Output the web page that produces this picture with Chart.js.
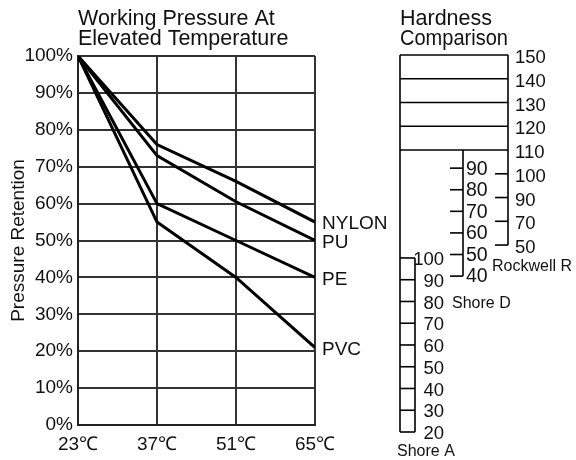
<!DOCTYPE html>
<html>
<head>
<meta charset="utf-8">
<script src="https://cdn.jsdelivr.net/npm/chart.js@4"></script>
<style>
  body { margin: 0; background: #fff; }
  #wrap { position: relative; width: 576px; height: 460px; }
  #pressureChart { position: absolute; left: 0; top: 0; }
  #hardnessChart { position: absolute; left: 380px; top: 0; }
</style>
</head>
<body>
<div id="wrap">
  <canvas id="pressureChart" width="400" height="460"></canvas>
  <canvas id="hardnessChart" width="196" height="460"></canvas>
</div>
<script>
// --- data ---
const temps = [23, 37, 51, 65];
const tempLabels = ['23℃', '37℃', '51℃', '65℃'];
const retentionTicks = [0, 10, 20, 30, 40, 50, 60, 70, 80, 90, 100];

const seriesNames = ['NYLON', 'PU', 'PE', 'PVC'];
const nylon = [100, 76, 66, 55];
const pu = [100, 73, 60.5, 50];
const pe = [100, 60, 50, 40];
const pvc = [100, 55, 40, 21];

const rockwellR = [150, 140, 130, 120, 110, 100, 90, 70, 50];
const shoreD = [90, 80, 70, 60, 50, 40];
const shoreA = [100, 90, 80, 70, 60, 50, 40, 30, 20];

const FONT = 'Liberation Sans, Arial, sans-serif';
const INK = '#111';

// --- left chart: working pressure ---
const endLabels = {
    id: 'endLabels',
    afterDatasetsDraw(chart) {
        const { ctx, chartArea, scales } = chart;
        ctx.save();
        ctx.font = '19px ' + FONT;
        ctx.fillStyle = INK;
        ctx.textAlign = 'left';
        ctx.textBaseline = 'middle';
        chart.data.datasets.forEach(ds => {
            const last = ds.data[ds.data.length - 1];
            ctx.fillText(ds.label, chartArea.right + 7, scales.y.getPixelForValue(last.y) + 2);
        });
        ctx.restore();
    }
};

const seriesValues = [nylon, pu, pe, pvc];

new Chart(document.getElementById('pressureChart').getContext('2d'), {
    type: 'line',
    data: {
        datasets: seriesNames.map((name, i) => ({
            label: name,
            data: temps.map((t, j) => ({ x: t, y: seriesValues[i][j] })),
            borderColor: '#000',
            borderWidth: 3,
            pointRadius: 0,
            tension: 0,
            fill: false
        }))
    },
    options: {
        responsive: false,
        animation: false,
        layout: { padding: { left: 0, right: 85, top: 0, bottom: 0 } },
        plugins: {
            legend: { display: false },
            tooltip: { enabled: false },
            title: {
                display: true,
                text: ['Working Pressure At', 'Elevated Temperature'],
                align: 'start',
                fullSize: false,
                color: INK,
                font: { family: FONT, size: 21.5, weight: 'normal', lineHeight: '20px' },
                padding: { top: 9, bottom: 7 }
            }
        },
        scales: {
            x: {
                type: 'linear',
                min: temps[0],
                max: temps[temps.length - 1],
                afterBuildTicks: s => { s.ticks = temps.map(v => ({ value: v })); },
                afterFit: s => { s.height = 35; },
                ticks: {
                    color: INK,
                    padding: 8,
                    maxRotation: 0,
                    font: { family: FONT, size: 19 },
                    callback: (v, i) => tempLabels[i]
                },
                grid: { color: '#333', lineWidth: 2, drawTicks: false },
                border: { color: '#222', width: 2 }
            },
            y: {
                min: 0,
                max: 100,
                afterBuildTicks: s => { s.ticks = retentionTicks.map(v => ({ value: v })); },
                afterFit: s => { s.width = 78; },
                ticks: {
                    color: INK,
                    padding: 5,
                    font: { family: FONT, size: 19 },
                    callback: v => v + '%'
                },
                grid: { color: '#333', lineWidth: 2, drawTicks: false },
                border: { color: '#222', width: 2 },
                title: {
                    display: true,
                    text: 'Pressure Retention',
                    color: INK,
                    font: { family: FONT, size: 19 },
                    padding: { top: 7, bottom: 0 }
                }
            }
        }
    },
    plugins: [endLabels]
});

// --- right chart: hardness comparison ---
const hardnessScales = {
    id: 'hardnessScales',
    afterDraw(chart) {
        const { ctx, chartArea: a, scales } = chart;
        const L = a.left, R = a.right;
        const dX = L + 63;   // Shore D spine
        const aX = L + 15;   // Shore A column edge
        const ry = i => scales.rock.getPixelForValue(i);
        const dy = v => scales.sd.getPixelForValue(v);
        const ay = v => scales.sa.getPixelForValue(v);
        const line = (x1, y1, x2, y2) => {
            ctx.beginPath(); ctx.moveTo(x1, y1); ctx.lineTo(x2, y2); ctx.stroke();
        };

        ctx.save();
        ctx.strokeStyle = '#000';
        ctx.lineWidth = 1.6;
        ctx.fillStyle = INK;
        ctx.font = '18.5px ' + FONT;
        ctx.textBaseline = 'middle';

        // outer left edge
        line(L, ry(0), L, ay(shoreA[shoreA.length - 1]));

        // Rockwell R
        line(R, ry(0), R, ry(rockwellR.length - 1));
        ctx.textAlign = 'left';
        rockwellR.forEach((v, i) => {
            if (v >= 110) line(L, ry(i), R, ry(i));
            else line(R - 13, ry(i), R, ry(i));
            ctx.fillText(String(v), R + 7, ry(i) + 3);
        });

        // Shore D
        ctx.font = '19.5px ' + FONT;
        line(dX, ry(rockwellR.indexOf(110)), dX, dy(shoreD[shoreD.length - 1]));
        shoreD.forEach(v => {
            line(dX - 13, dy(v), dX, dy(v));
            ctx.fillText(String(v), dX + 3, dy(v) + 1);
        });

        // Shore A
        ctx.font = '18.5px ' + FONT;
        line(aX, ay(shoreA[0]), aX, ay(shoreA[shoreA.length - 1]));
        ctx.textAlign = 'right';
        shoreA.forEach(v => {
            line(L, ay(v), aX, ay(v));
            ctx.fillText(String(v), L + 44, ay(v) + 2);
        });

        // scale names
        ctx.font = '16px ' + FONT;
        ctx.textAlign = 'left';
        ctx.fillText('Rockwell R', R - 16, ry(rockwellR.length - 1) + 22);
        ctx.fillText('Shore D', dX - 11, dy(shoreD[shoreD.length - 1]) + 27);
        ctx.fillText('Shore A', L - 3, ay(shoreA[shoreA.length - 1]) + 20);
        ctx.restore();
    }
};

new Chart(document.getElementById('hardnessChart').getContext('2d'), {
    type: 'scatter',
    data: { datasets: [] },
    options: {
        responsive: false,
        animation: false,
        layout: { padding: { left: 20, right: 68, top: 0, bottom: 28 } },
        plugins: {
            legend: { display: false },
            tooltip: { enabled: false },
            title: {
                display: true,
                text: ['Hardness', 'Comparison'],
                align: 'start',
                fullSize: false,
                color: INK,
                font: { family: FONT, size: 21.5, weight: 'normal', lineHeight: '20px' },
                padding: { top: 9, bottom: 6 }
            }
        },
        scales: {
            x: { type: 'linear', axis: 'x', display: false, min: 0, max: 1 },
            rock: { type: 'linear', axis: 'y', display: false, reverse: true, min: 0, max: 15.87 },
            sd: { type: 'linear', axis: 'y', display: false, min: -32.2, max: 142.4 },
            sa: { type: 'linear', axis: 'y', display: false, min: 20, max: 193.3 }
        }
    },
    plugins: [hardnessScales]
});
</script>
</body>
</html>
